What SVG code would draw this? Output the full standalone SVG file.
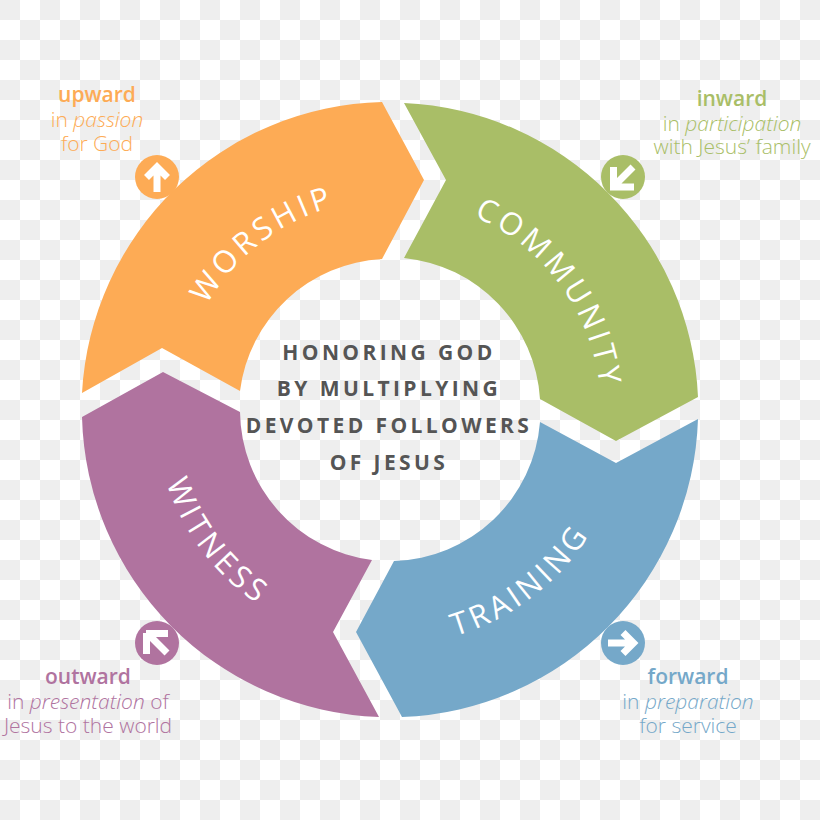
<svg xmlns="http://www.w3.org/2000/svg" width="820" height="820" viewBox="0 0 820 820">
<style>
.seg-label{font-family:"Open Sans","Liberation Sans",sans-serif;font-size:31px;font-weight:500;letter-spacing:4px;fill:#fff;text-anchor:middle}
.hub{font-family:"Open Sans","Liberation Sans",sans-serif;font-size:21px;font-weight:700;letter-spacing:3.4px;fill:#555;text-anchor:middle}
.head{font-family:"Open Sans","Liberation Sans",sans-serif;font-size:21px;font-weight:600;text-anchor:middle}
.sub{font-family:"Open Sans","Liberation Sans",sans-serif;font-size:21px;font-weight:300;text-anchor:middle}
.arrow{fill:none;stroke:#fff;stroke-width:7}
.orange{fill:#fdab55}.green{fill:#a9be67}.blue{fill:#75a8c9}.purple{fill:#b0739f}
</style>
<defs>
<pattern id="checks" width="40" height="40" patternUnits="userSpaceOnUse">
<rect width="40" height="40" fill="#fff"/>
<rect width="20" height="20" fill="#eeeeee"/>
<rect x="20" y="20" width="20" height="20" fill="#eeeeee"/>
</pattern>
<path id="arc-worship" d="M222.6 538.5A211 211 0 0 1 557.4 281.5"/>
<path id="arc-community" d="M265.4 239.7A211 211 0 0 1 514.6 580.3"/>
<path id="arc-training" d="M202.8 552.1A235 235 0 0 0 577.2 267.9"/>
<path id="arc-witness" d="M247.9 222.8A235 235 0 0 0 532.1 597.2"/>
</defs>
<rect width="820" height="820" fill="url(#checks)"/>

<g id="worship">
<path class="orange" d="M82 393A308 308 0 0 1 382 102L424 180L382 259A151 151 0 0 0 240 391L162 348Z"/>
<text class="seg-label"><textPath href="#arc-worship" startOffset="50%">WORSHIP</textPath></text>
<circle class="orange" cx="157" cy="177" r="22"/>
<path class="arrow" d="M157 192V167M146.500 177.500L157 167L167.500 177.500"/>
<g>
<text class="head orange" x="97" y="102">upward</text>
<text class="sub orange" x="97" y="127">in <tspan font-style="italic">passion</tspan></text>
<text class="sub orange" x="97" y="151">for God</text>
</g>
</g>

<g id="community">
<path class="green" d="M404 103A308 308 0 0 1 698 397L616 441L540 399A151 151 0 0 0 404 258L446 180Z"/>
<text class="seg-label"><textPath href="#arc-community" startOffset="50%">COMMUNITY</textPath></text>
<circle class="green" cx="623" cy="177" r="22"/>
<path class="arrow" d="M633 167L614 186M613.500 167V187H634"/>
<g>
<text class="head green" x="732" y="106">inward</text>
<text class="sub green" x="732" y="131">in <tspan font-style="italic">participation</tspan></text>
<text class="sub green" x="732" y="154">with Jesus’ family</text>
</g>
</g>

<g id="training">
<path class="blue" d="M698 419A308 308 0 0 1 402 717L356 632L394 561A151 151 0 0 0 540 422L616 463Z"/>
<text class="seg-label"><textPath href="#arc-training" startOffset="50%">TRAINING</textPath></text>
<circle class="blue" cx="623" cy="643" r="22"/>
<path class="arrow" d="M608 643H633M623 632.500L633.500 643L623 653.500"/>
<g>
<text class="head blue" x="688" y="684">forward</text>
<text class="sub blue" x="688" y="709">in <tspan font-style="italic">preparation</tspan></text>
<text class="sub blue" x="688" y="733">for service</text>
</g>
</g>

<g id="witness">
<path class="purple" d="M379 717A308 308 0 0 1 82 417L163 372L240 412A151 151 0 0 0 372 560L333 632Z"/>
<text class="seg-label"><textPath href="#arc-witness" startOffset="50%">WITNESS</textPath></text>
<circle class="purple" cx="157" cy="643" r="22"/>
<path class="arrow" d="M167 653L148 634M146 633.500H168M146.500 633V654"/>
<g>
<text class="head purple" x="88" y="684">outward</text>
<text class="sub purple" x="88" y="709">in <tspan font-style="italic">presentation</tspan> of</text>
<text class="sub purple" x="88" y="733">Jesus to the world</text>
</g>
</g>

<g id="hub">
<text class="hub" x="389" y="360">HONORING GOD</text>
<text class="hub" x="389" y="396">BY MULTIPLYING</text>
<text class="hub" x="389" y="433">DEVOTED FOLLOWERS</text>
<text class="hub" x="389" y="470">OF JESUS</text>
</g>
<g id="connectors"></g>
</svg>
